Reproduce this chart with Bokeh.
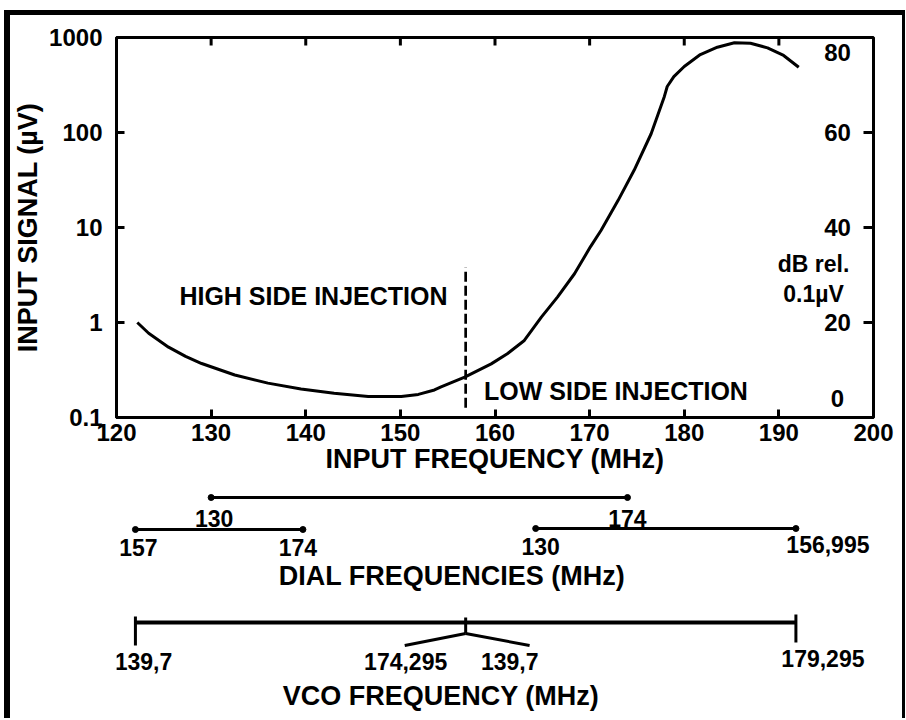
import math
from bokeh.plotting import figure
from bokeh.models import Range1d, FixedTicker, LinearScale, Div
from bokeh.layouts import column, row
from bokeh.embed import file_html
from bokeh.resources import INLINE
from bokeh.core.properties import value

# ---------------- data ----------------
input_freq_mhz = [122.2, 123.4, 125.5, 127.3, 129.0, 132.5, 136.0, 139.5, 143.0, 146.6,
                  150.1, 151.9, 153.6, 154.3, 156.8, 159.6, 161.3, 163.1, 164.9, 166.6,
                  168.4, 170.1, 171.2, 173.0, 174.7, 176.5, 177.9, 178.2, 178.9, 180.0,
                  181.7, 183.5, 185.3, 187.0, 188.8, 190.5, 192.1]
input_signal_uv = [1.0, 0.77, 0.55, 0.44, 0.37, 0.28, 0.23, 0.20, 0.18, 0.166,
                   0.166, 0.175, 0.195, 0.21, 0.266, 0.367, 0.469, 0.647, 1.14, 1.85,
                   3.26, 6.3, 9.3, 19.2, 40.0, 97.0, 240.0, 305.0, 388.0, 495.0,
                   662.0, 791.0, 879.0, 871.0, 778.0, 647.0, 486.0]

x_ticks = [120, 130, 140, 150, 160, 170, 180, 190, 200]
y_ticks_uv = [0.1, 1, 10, 100, 1000]
y_tick_labels = ["0.1", "1", "10", "100", "1000"]
db_ticks = [0, 20, 40, 60, 80]
db_tick_labels = ["0", "20", "40", "60", "80"]

injection_split_mhz = 156.9
dashed_span_uv = [0.127, 3.8]

dial_input_span = [130, 174]
dial_input_labels = ["130", "174"]
dial_low_span = [122, 139.7]
dial_low_labels = ["157", "174"]
dial_high_span = [164.3, 191.8]
dial_high_labels = ["130", "156,995"]
vco_span = [122, 191.8]
vco_end_labels = ["139,7", "179,295"]
vco_split_mhz = 156.9
vco_split_labels = ["174,295", "139,7"]

# ---------------- styling / layout ----------------
FONT_NAME = "Liberation Sans"
FONT = value(FONT_NAME)
PAD_LEFT, PAD_TOP = 4, 10          # white space outside the black frame
B_LEFT, B_TOP, B_RIGHT = 6, 5, 3   # black frame thickness
W = 892
A_H = 470
B_H = 233
FL, FR, FT, FB = 105, 29, 22, 68
X0, X1 = 120, 200
PXF = (W - FL - FR) / (X1 - X0)  # pixels per MHz

p = figure(width=W, height=A_H, x_range=Range1d(X0, X1), y_range=Range1d(0.1, 1000),
           y_axis_type="log", output_backend="svg", toolbar_location=None,
           min_border_left=FL, min_border_right=FR, min_border_top=FT, min_border_bottom=FB)
p.grid.visible = False
p.outline_line_color = "black"
p.outline_line_width = 3
p.background_fill_color = "white"
p.border_fill_color = "white"
p.extra_y_ranges = {"db": Range1d(0, 80)}
p.extra_y_scales = {"db": LinearScale()}


def style_axis(ax):
    ax.axis_line_width = 3
    ax.axis_line_color = "black"
    ax.major_tick_line_width = 3
    ax.major_tick_line_color = "black"
    ax.major_tick_in = 8
    ax.major_tick_out = 0
    ax.minor_tick_line_color = None
    ax.major_label_text_font = FONT_NAME
    ax.major_label_text_font_style = "bold"
    ax.major_label_text_font_size = "24px"
    ax.major_label_text_color = "black"
    ax.axis_label_text_font = FONT_NAME
    ax.axis_label_text_font_style = "bold"
    ax.axis_label_text_font_size = "27px"
    ax.axis_label_text_color = "black"


xa = p.xaxis[0]
style_axis(xa)
xa.ticker = FixedTicker(ticks=x_ticks)
xa.major_label_standoff = 6
xa.axis_label = "INPUT FREQUENCY (MHz)"
xa.axis_label_standoff = 0

ya = p.yaxis[0]
style_axis(ya)
ya.ticker = FixedTicker(ticks=y_ticks_uv)
ya.major_label_overrides = {t: s for t, s in zip(y_ticks_uv, y_tick_labels)}
ya.major_label_standoff = 14
ya.axis_label = "INPUT SIGNAL (µV)"
ya.axis_label_standoff = 3

# inward tick marks on the top edge and on the right (dB) edge
inner_x_ticks = x_ticks[1:-1]
p.ray(x=inner_x_ticks, y=[1000] * len(inner_x_ticks), length=8, length_units="screen",
      angle=-math.pi / 2, line_width=3, line_color="black")
inner_db = db_ticks[1:-1]
p.ray(x=[X1] * len(inner_db), y=inner_db, y_range_name="db", length=10, length_units="screen",
      angle=math.pi, line_width=3, line_color="black")

# curve
p.line(input_freq_mhz, input_signal_uv, line_width=3, line_color="black", line_join="round")
# injection boundary
p.line([injection_split_mhz, injection_split_mhz], dashed_span_uv, line_width=2.7,
       line_color="black", line_dash="10 4")

txt = dict(text_font=FONT, text_font_style="bold", text_color="black")
p.text(x=[126.65], y=[1.92], text=["HIGH SIDE INJECTION"], text_font_size="25px",
       text_align="left", text_baseline="middle", **txt)
p.text(x=[158.84], y=[0.192], text=["LOW SIDE INJECTION"], text_font_size="25px",
       text_align="left", text_baseline="middle", **txt)

# dB labels drawn inside the frame, as in the reference
p.text(x=[X1] * len(db_ticks), y=db_ticks, y_range_name="db", text=db_tick_labels,
       x_offset=-36, y_offset=[-19, 0, 0, 0, 15], text_font_size="24px",
       text_align="center", text_baseline="middle", **txt)
p.text(x=[X1, X1], y=[32.4, 26.1], y_range_name="db", text=["dB rel.", "0.1µV"],
       x_offset=-60, text_font_size="23px", text_align="center", text_baseline="middle", **txt)

# ---------------- lower scales ----------------
Y_TOP = PAD_TOP + B_TOP + A_H  # page y of the top of this panel (y values below are page pixels)
b = figure(width=W, height=B_H, x_range=p.x_range,
           y_range=Range1d(Y_TOP + B_H, Y_TOP), output_backend="svg", toolbar_location=None,
           min_border_left=FL, min_border_right=FR, min_border_top=0, min_border_bottom=0,
           x_axis_location=None, y_axis_location=None)
b.grid.visible = False
b.outline_line_color = None
b.background_fill_color = "white"
b.border_fill_color = "white"

# dial bars
bars_x0 = [dial_input_span[0], dial_low_span[0], dial_high_span[0]]
bars_x1 = [dial_input_span[1], dial_low_span[1], dial_high_span[1]]
bars_y = [497, 529, 528]
b.segment(x0=bars_x0, y0=bars_y, x1=bars_x1, y1=bars_y, line_width=3, line_color="black")
b.scatter(x=bars_x0 + bars_x1, y=bars_y + bars_y, size=6, color="black")

b.text(x=dial_input_span, y=[518, 518], text=dial_input_labels, x_offset=[3, 0],
       text_font_size="23px", text_align="center", text_baseline="middle", **txt)
b.text(x=dial_low_span, y=[547, 547], text=dial_low_labels, x_offset=[3, -5],
       text_font_size="23px", text_align="center", text_baseline="middle", **txt)
b.text(x=dial_high_span, y=[546, 544], text=dial_high_labels, x_offset=[5, 32],
       text_font_size="23px", text_align="center", text_baseline="middle", **txt)
b.text(x=[X0 + (451 - 115) / PXF], y=[575], text=["DIAL FREQUENCIES (MHz)"],
       text_font_size="27px", text_align="center", text_baseline="middle", **txt)

# VCO bar
b.segment(x0=[vco_span[0]], y0=[622], x1=[vco_span[1]], y1=[622], line_width=4, line_color="black")
b.segment(x0=vco_span + [vco_split_mhz], y0=[616, 614, 617], x1=vco_span + [vco_split_mhz],
          y1=[645, 642, 633], line_width=3, line_color="black")
b.segment(x0=[vco_split_mhz, vco_split_mhz], y0=[633, 633],
          x1=[vco_split_mhz - 61 / PXF, vco_split_mhz + 64 / PXF], y1=[645, 645],
          line_width=3, line_color="black")
b.text(x=vco_span, y=[661, 658], text=vco_end_labels, x_offset=[8, 27],
       text_font_size="23px", text_align="center", text_baseline="middle", **txt)
b.text(x=[vco_split_mhz, vco_split_mhz], y=[661, 661], text=vco_split_labels,
       x_offset=[-60, 44], text_font_size="23px", text_align="center", text_baseline="middle", **txt)
b.text(x=[X0 + (440 - 115) / PXF], y=[695], text=["VCO FREQUENCY (MHz)"],
       text_font_size="27px", text_align="center", text_baseline="middle", **txt)

# outer black frame made of plain blocks (top, left, right), plus white padding
black = {"background-color": "black"}
frame_h = B_TOP + A_H + B_H
top_pad = Div(text="", width=PAD_LEFT + B_LEFT + W + B_RIGHT, height=PAD_TOP, margin=0)
left_pad = Div(text="", width=PAD_LEFT, height=frame_h, margin=0)
top_edge = Div(text="", width=W, height=B_TOP, margin=0, styles=black)
left_edge = Div(text="", width=B_LEFT, height=frame_h, margin=0, styles=black)
right_edge = Div(text="", width=B_RIGHT, height=frame_h, margin=0, styles=black)

layout = column(top_pad,
                row(left_pad, left_edge, column(top_edge, p, b, spacing=0), right_edge, spacing=0),
                spacing=0)

open("out.html", "w").write(file_html(layout, INLINE))
